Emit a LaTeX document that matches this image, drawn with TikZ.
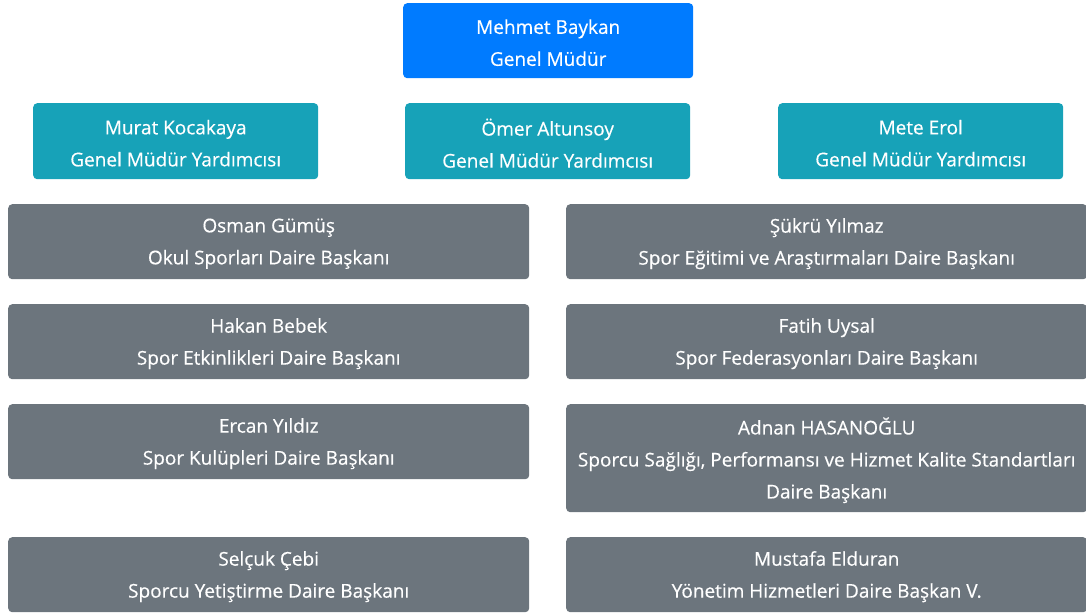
\documentclass[tikz,border=0pt]{standalone}
\usepackage{fontspec}
\setmainfont{Open Sans}
\newfontfamily\boxfont[FakeBold=0.4]{Open Sans}
\definecolor{cblue}{HTML}{007BFF}
\definecolor{cteal}{HTML}{17A2B8}
\definecolor{cgray}{HTML}{6C757D}
\begin{document}
\begin{tikzpicture}[x=1pt,y=-1pt,
  box/.style={anchor=north west, rounded corners=4pt, inner sep=0pt},
  txt/.style={text=white, align=center, inner sep=0pt, font=\boxfont\fontsize{19}{32}\selectfont},
  topbox/.style={box, fill=cblue, minimum width=290pt, minimum height=75pt},
  gmybox/.style={box, fill=cteal, minimum width=285pt, minimum height=76pt},
  dbox/.style={box, fill=cgray, minimum width=521pt, minimum height=75pt}]
\useasboundingbox (0,0) rectangle (1086,615);
\node[topbox] (gm) at (403,3) {};
\node[txt] (gmt) at ([yshift=-2pt]gm.center) {Mehmet Baykan\\Genel Müdür};
\node[gmybox] (g1) at (33,103) {};
\node[txt] (g1t) at ([yshift=-2pt]g1.center) {Murat Kocakaya\\Genel Müdür Yardımcısı};
\node[gmybox] (g2) at (405,103) {};
\node[txt] (g2t) at ([yshift=-2pt]g2.center) {Ömer Altunsoy\\Genel Müdür Yardımcısı};
\node[gmybox] (g3) at (778,103) {};
\node[txt] (g3t) at ([yshift=-2pt]g3.center) {Mete Erol\\Genel Müdür Yardımcısı};
\node[dbox] (l1) at (8,204) {};
\node[txt] (l1t) at ([yshift=-2pt]l1.center) {Osman Gümüş\\Okul Sporları Daire Başkanı};
\node[dbox] (l2) at (8,304) {};
\node[txt] (l2t) at ([yshift=-2pt]l2.center) {Hakan Bebek\\Spor Etkinlikleri Daire Başkanı};
\node[dbox] (l3) at (8,404) {};
\node[txt] (l3t) at ([yshift=-2pt]l3.center) {Ercan Yıldız\\Spor Kulüpleri Daire Başkanı};
\node[dbox] (l4) at (8,537) {};
\node[txt] (l4t) at ([yshift=-2pt]l4.center) {Selçuk Çebi\\Sporcu Yetiştirme Daire Başkanı};
\node[dbox] (r1) at (566,204) {};
\node[txt] (r1t) at ([yshift=-2pt]r1.center) {Şükrü Yılmaz\\Spor Eğitimi ve Araştırmaları Daire Başkanı};
\node[dbox] (r2) at (566,304) {};
\node[txt] (r2t) at ([yshift=-2pt]r2.center) {Fatih Uysal\\Spor Federasyonları Daire Başkanı};
\node[dbox, minimum height=108pt] (r3) at (566,404) {};
\node[txt] (r3t) at ([yshift=-2pt]r3.center) {Adnan HASANOĞLU\\Sporcu Sağlığı, Performansı ve Hizmet Kalite Standartları\\Daire Başkanı};
\node[dbox] (r4) at (566,537) {};
\node[txt] (r4t) at ([yshift=-2pt]r4.center) {Mustafa Elduran\\Yönetim Hizmetleri Daire Başkan V.};
\end{tikzpicture}
\end{document}
